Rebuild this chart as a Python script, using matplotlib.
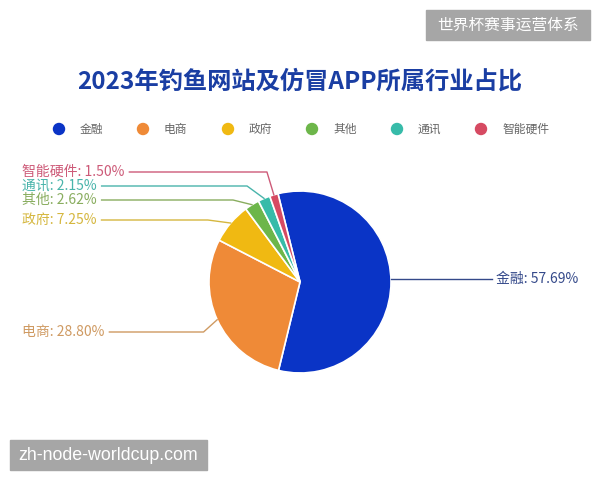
import matplotlib
matplotlib.use("Agg")
import matplotlib.pyplot as plt
import numpy as np
from matplotlib.patches import Rectangle

# ---- data ----
categories = ["金融", "电商", "政府", "其他", "通讯", "智能硬件"]
values = [57.69, 28.80, 7.25, 2.62, 2.15, 1.50]
slice_colors = ["#0a34c6", "#ef8a37", "#f0b912", "#6db64a", "#37bba9", "#d64a62"]
label_colors = ["#34498a", "#cf9a62", "#d5b73f", "#89ad5f", "#49b4ab", "#cd5a78"]
title = "2023年钓鱼网站及仿冒APP所属行业占比"

# ---- layout (pixels, from top-left) ----
W, H = 600, 480
cx, cy, R = 300, 282, 91
start_angle = 104
label_y = [278.5, 332, 220, 200, 186, 172]
leader_len = [0, 15, 30, 36, 43, 24]

plt.rcParams['font.family'] = ['Noto Sans CJK SC', 'DejaVu Sans']

fig = plt.figure(figsize=(6, 4.8), dpi=100)
ax = fig.add_axes([0, 0, 1, 1])


def Y(y):
    return H - y


wedges, _ = ax.pie(values, colors=slice_colors, startangle=start_angle, counterclock=False,
                   center=(cx, Y(cy)), radius=R, frame=True,
                   wedgeprops=dict(edgecolor='white', linewidth=1.2))
ax.set_xlim(0, W)
ax.set_ylim(0, H)
ax.set_aspect('equal')
ax.axis('off')

fig.canvas.draw()
renderer = fig.canvas.get_renderer()

total = sum(values)
cum = 0
for i, (cat, v) in enumerate(zip(categories, values)):
    mid = start_angle - 360 * (cum + v / 2) / total
    cum += v
    th = np.deg2rad(mid)
    x0, y0 = cx + R * np.cos(th), cy - R * np.sin(th)
    txt = f"{cat}: {v:.2f}%"
    if np.cos(th) > 0:
        dy = label_y[i] - cy
        xe = cx + np.sqrt(R ** 2 - dy ** 2)
        ax.plot([xe, 492], [Y(label_y[i]), Y(label_y[i])], color=label_colors[i], lw=1)
        ax.text(496, Y(label_y[i]), txt, color=label_colors[i], fontsize=10,
                ha='left', va='center')
    else:
        t = ax.text(22, Y(label_y[i]), txt, color=label_colors[i], fontsize=10,
                    ha='left', va='center')
        bb = t.get_window_extent(renderer)
        xend = bb.x1 + 5
        x1 = cx + (R + leader_len[i]) * np.cos(th)
        ax.plot([x0, x1, xend], [Y(y0), Y(label_y[i]), Y(label_y[i])],
                color=label_colors[i], lw=1)

# title
ax.text(300, Y(82), title, color="#1a3ea3", fontsize=17.5, fontweight='bold',
        ha='center', va='center')

# legend
leg_x = [59, 143, 228, 312, 397, 481]
for i, cat in enumerate(categories):
    ax.scatter([leg_x[i]], [Y(129)], s=80, color=slice_colors[i], edgecolors='none', zorder=3)
    ax.text(leg_x[i] + 21, Y(129), cat, color="#666666", fontsize=8.5, ha='left', va='center')

# watermark boxes
ax.add_patch(Rectangle((426, Y(40)), 164, 30, color="#a6a6a6", zorder=5))
ax.text(508, Y(25), "世界杯赛事运营体系", color="white", fontsize=11.3, ha='center', va='center', zorder=6)
ax.add_patch(Rectangle((10, Y(470)), 197, 30, color="#a6a6a6", zorder=5))
ax.text(108.5, Y(455), "zh-node-worldcup.com", color="white", fontsize=12.8,
        family=['Liberation Sans', 'DejaVu Sans'], ha='center', va='center', zorder=6)

fig.savefig("out.png", dpi=100)
